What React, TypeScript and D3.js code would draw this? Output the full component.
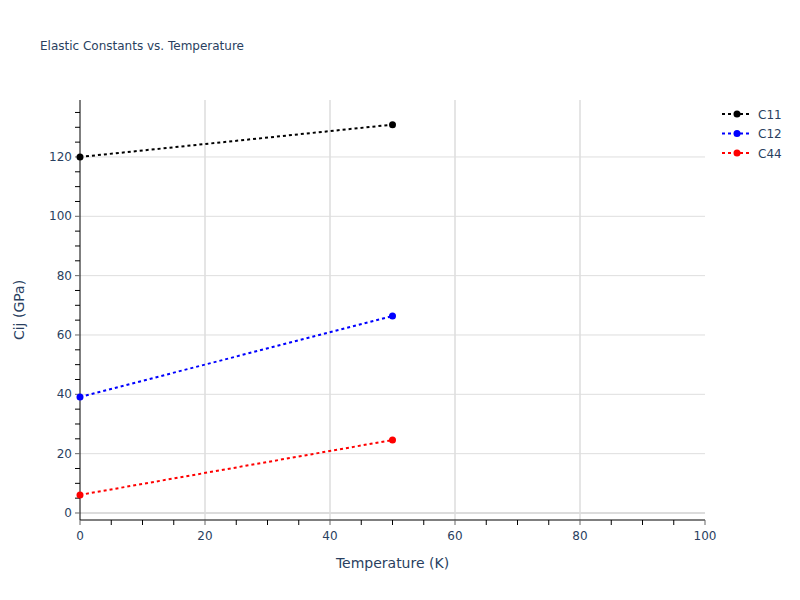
import React from "react";
import * as d3 from "d3";

const temperatures = [0, 50];
const c11 = [120.0, 130.9];
const c12 = [39.1, 66.4];
const c44 = [6.1, 24.6];
const seriesNames = ["C11", "C12", "C44"];
const seriesColors = ["black", "blue", "red"];
const xTicks = [0, 20, 40, 60, 80, 100];
const yTicks = [0, 20, 40, 60, 80, 100, 120];

const W = 800, H = 600;
const L = 80, R = 705, T = 100, B = 520;
const font = "'DejaVu Sans', Verdana, sans-serif";
const txt = "#2a3f5f";

export default function App() {
  const x = d3.scaleLinear().domain([0, 100]).range([L, R]);
  const y = d3.scaleLinear().domain([-2.36, 139.2]).range([B, T]);
  const series = [c11, c12, c44];
  const line = d3.line<[number, number]>().x(d => x(d[0])).y(d => y(d[1]));
  const xMinor = d3.range(0, 101, 5);
  const yMinor = d3.range(0, 139, 5);
  return (
    <svg width={W} height={H} style={{ position: "absolute", left: 0, top: 0, background: "white" }}>
      <rect width={W} height={H} fill="white" />
      {xTicks.filter(t => t > 0 && t < 100).map(t => (
        <line key={"gx" + t} x1={x(t)} x2={x(t)} y1={T} y2={B} stroke="#e5e5e5" strokeWidth={2} />
      ))}
      {yTicks.filter(t => t > 0).map(t => (
        <line key={"gy" + t} x1={L} x2={R} y1={y(t)} y2={y(t)} stroke="#dedede" strokeWidth={1} />
      ))}
      <line x1={L} x2={R} y1={y(0)} y2={y(0)} stroke="#dcdcdc" strokeWidth={2} />
      <line x1={L} x2={R} y1={B} y2={B} stroke="black" strokeWidth={1} />
      <line x1={L} x2={L} y1={T} y2={B} stroke="black" strokeWidth={1} />
      {xMinor.map(t => (
        <line key={"tx" + t} x1={x(t)} x2={x(t)} y1={B} y2={B + 5} stroke={t % 20 === 0 ? "#666" : "black"} strokeWidth={1} />
      ))}
      {yMinor.map(t => (
        <line key={"ty" + t} x1={L - 5} x2={L} y1={y(t)} y2={y(t)} stroke={t % 20 === 0 ? "#666" : "black"} strokeWidth={1} />
      ))}
      {xTicks.map(t => (
        <text key={"lx" + t} x={x(t)} y={540} textAnchor="middle" fontFamily={font} fontSize={12} fill={txt}>{t}</text>
      ))}
      {yTicks.map(t => (
        <text key={"ly" + t} x={L - 8} y={y(t) + 4} textAnchor="end" fontFamily={font} fontSize={12} fill={txt}>{t}</text>
      ))}
      {series.map((s, i) => {
        const pts = temperatures.map((t, j) => [t, s[j]] as [number, number]);
        return (
          <g key={seriesNames[i]}>
            <path d={line(pts) || ""} fill="none" stroke={seriesColors[i]} strokeWidth={2} strokeDasharray="3,3" />
            {pts.map((p, j) => (
              <circle key={j} cx={x(p[0])} cy={y(p[1])} r={3.5} fill={seriesColors[i]} />
            ))}
          </g>
        );
      })}
      {seriesNames.map((n, i) => {
        const ly = 114 + i * 19.5;
        return (
          <g key={"lg" + n}>
            <line x1={722} x2={752} y1={ly} y2={ly} stroke={seriesColors[i]} strokeWidth={2} strokeDasharray="3,3" />
            <circle cx={737} cy={ly} r={3.5} fill={seriesColors[i]} />
            <text x={758} y={ly + 4.5} fontFamily={font} fontSize={12} fill={txt}>{n}</text>
          </g>
        );
      })}
      <text x={40} y={50} fontFamily={font} fontSize={12} fill={txt}>Elastic Constants vs. Temperature</text>
      <text x={(L + R) / 2} y={568} textAnchor="middle" fontFamily={font} fontSize={14} fill={txt}>Temperature (K)</text>
      <text transform={`translate(24,${(T + B) / 2}) rotate(-90)`} textAnchor="middle" fontFamily={font} fontSize={14} fill={txt}>Cij (GPa)</text>
    </svg>
  );
}
